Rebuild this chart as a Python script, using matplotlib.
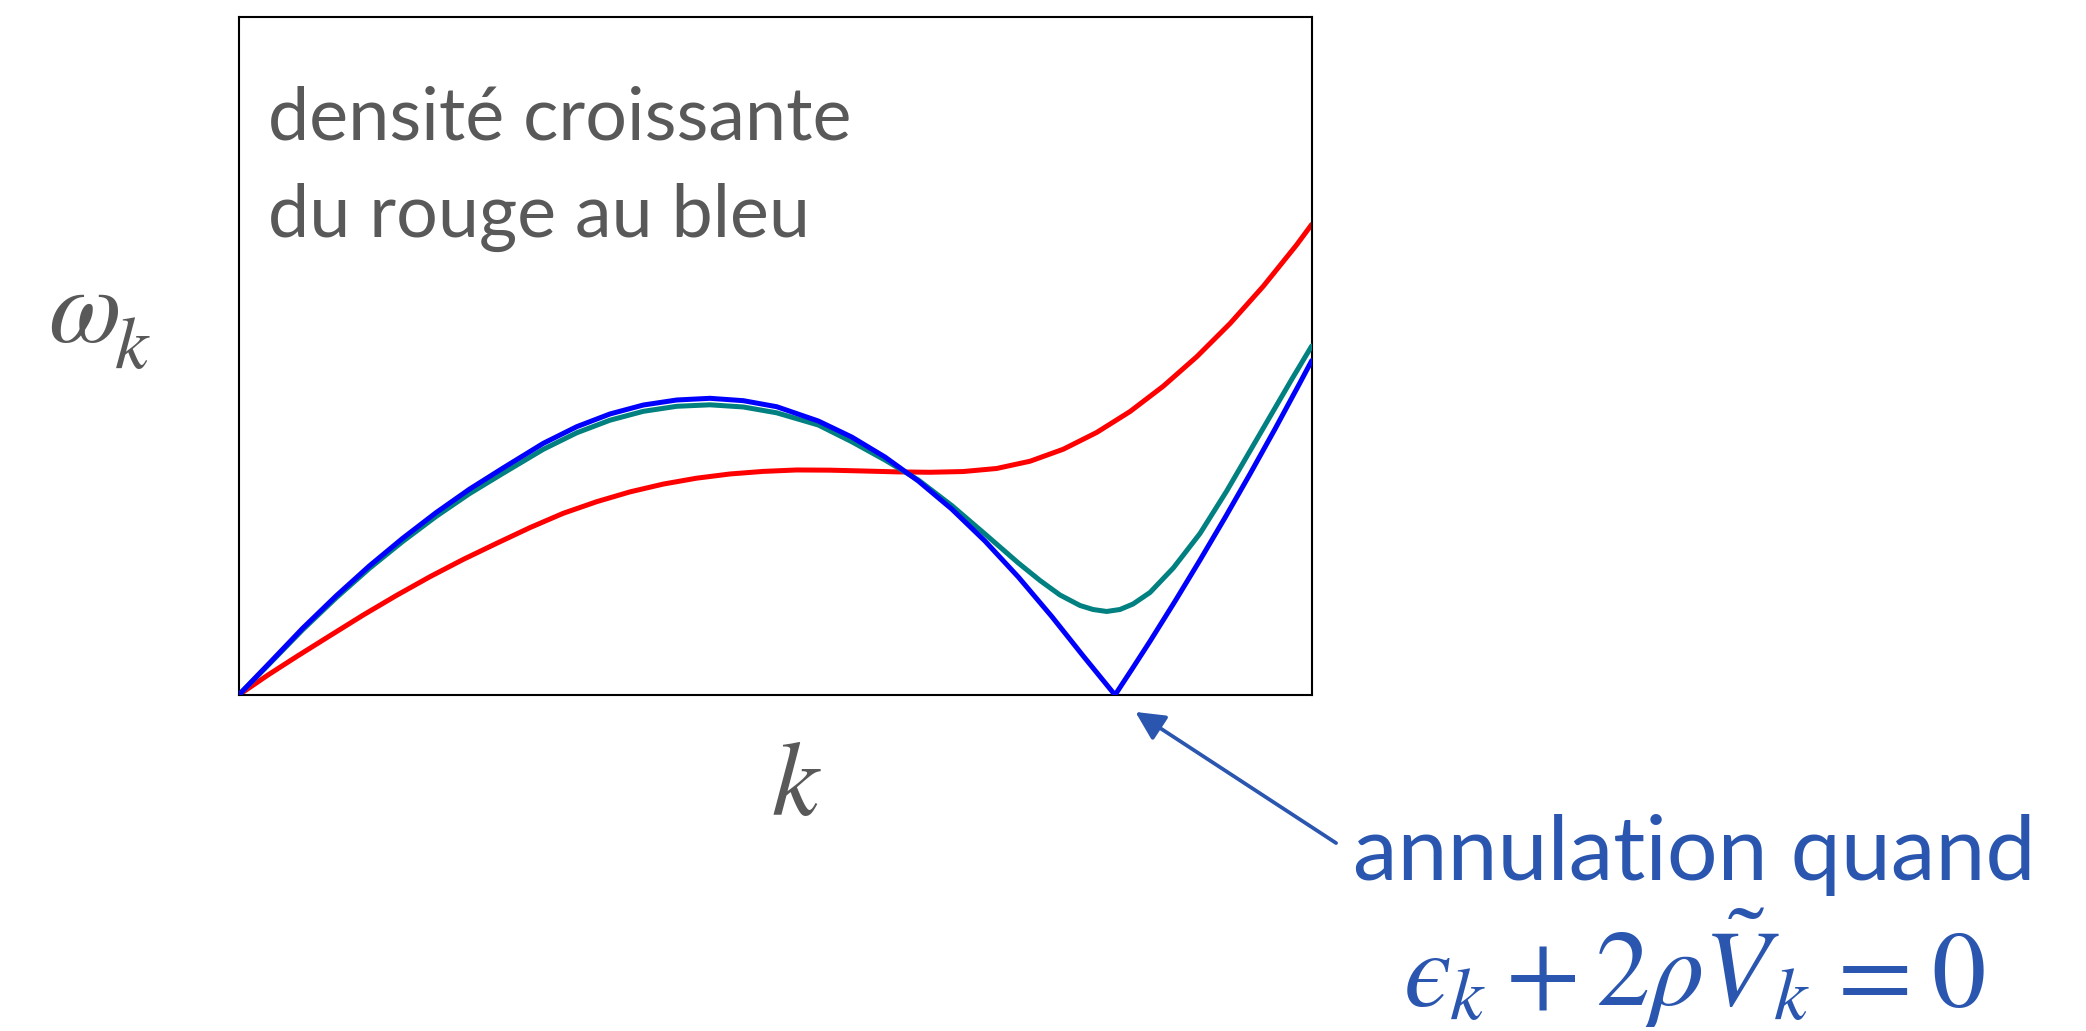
import matplotlib
matplotlib.use("Agg")
import matplotlib.pyplot as plt

plt.rcParams["mathtext.fontset"] = "stix"

# Dispersion curves omega_k(k); k and omega in units of the axis range
k_red = [0.0, 0.0270, 0.0541, 0.0851, 0.1161, 0.1472, 0.1783, 0.2093, 0.2404,
         0.2715, 0.3025, 0.3336, 0.3647, 0.3957, 0.4268, 0.4579, 0.4889,
         0.5200, 0.5511, 0.5821, 0.6132, 0.6443, 0.6753, 0.7064, 0.7375,
         0.7685, 0.7996, 0.8307, 0.8617, 0.8928, 0.9239, 0.9549, 0.9860, 1.0]
w_red = [0.0, 0.0292, 0.0568, 0.0875, 0.1180, 0.1470, 0.1745, 0.2000, 0.2237,
         0.2469, 0.2680, 0.2851, 0.2996, 0.3111, 0.3198, 0.3260, 0.3298,
         0.3319, 0.3316, 0.3304, 0.3291, 0.3285, 0.3296, 0.3341, 0.3448,
         0.3625, 0.3872, 0.4181, 0.4555, 0.4988, 0.5479, 0.6029, 0.6640, 0.6940]

k_teal = [0.0, 0.0285, 0.0596, 0.0907, 0.1217, 0.1528, 0.1839, 0.2149, 0.2460,
          0.2839, 0.3150, 0.3460, 0.3771, 0.4082, 0.4392, 0.4703, 0.5014,
          0.5402, 0.5713, 0.6023, 0.6334, 0.6645, 0.6955, 0.7266, 0.7468,
          0.7654, 0.7841, 0.7962, 0.8089, 0.8213, 0.8335, 0.8493, 0.8710,
          0.8959, 0.9208, 0.9425, 0.9642, 0.9816, 1.0]
w_teal = [0.0, 0.0457, 0.0962, 0.1431, 0.1866, 0.2264, 0.2633, 0.2968, 0.3267,
          0.3624, 0.3867, 0.4053, 0.4184, 0.4258, 0.4280, 0.4248, 0.4162,
          0.3982, 0.3736, 0.3466, 0.3171, 0.2795, 0.2375, 0.1947, 0.1689,
          0.1475, 0.1320, 0.1261, 0.1232, 0.1261, 0.1342, 0.1512, 0.1873,
          0.2382, 0.3009, 0.3599, 0.4189, 0.4661, 0.5147]

k_blue = [0.0, 0.0285, 0.0596, 0.0907, 0.1217, 0.1528, 0.1839, 0.2149, 0.2460,
          0.2839, 0.3150, 0.3460, 0.3771, 0.4082, 0.4392, 0.4703, 0.5014,
          0.5402, 0.5713, 0.6023, 0.6334, 0.6645, 0.6955, 0.7266, 0.7577,
          0.7871, 0.8167, 0.8325, 0.8493, 0.8726, 0.8959, 0.9192, 0.9425,
          0.9658, 0.9891, 1.0]
w_blue = [0.0, 0.0468, 0.0984, 0.1460, 0.1903, 0.2311, 0.2689, 0.3034, 0.3344,
          0.3712, 0.3957, 0.4145, 0.4277, 0.4351, 0.4376, 0.4341, 0.4252,
          0.4041, 0.3805, 0.3510, 0.3156, 0.2743, 0.2271, 0.1740, 0.1159,
          0.0575, 0.0, 0.0381, 0.0792, 0.1382, 0.1990, 0.2615, 0.3260,
          0.3923, 0.4606, 0.4931]

k_zero = 0.8167  # where eps_k + 2 rho V_k vanishes

GRAY = "#595959"
ANNOT = "#2A56B0"
W, H = 2086, 1031

fig = plt.figure(figsize=(W / 100, H / 100), dpi=100)
ax = fig.add_axes([0.11443, 0.32590, 0.51438, 0.65761])

line_kw = dict(lw=3.6, solid_capstyle="round", solid_joinstyle="round")
ax.plot(k_red, w_red, color="#FF0000", zorder=2, **line_kw)
ax.plot(k_teal, w_teal, color="#008080", zorder=3, **line_kw)
ax.plot(k_blue, w_blue, color="#0000FF", zorder=4, **line_kw)

ax.set_xlim(0, 1)
ax.set_ylim(0, 1)
ax.set_xticks([])
ax.set_yticks([])
for s in ax.spines.values():
    s.set_linewidth(1.5)
    s.set_color("black")


def put(x_px, base_px, s, size, color, **kw):
    """Place text with its left edge at x_px and baseline at base_px (from top)."""
    kw.setdefault("ha", "left")
    fig.text(x_px / W, 1 - base_px / H, s, fontsize=size, color=color,
             va="baseline", **kw)


txt_font = ["Lato", "DejaVu Sans"]
put(268, 140, "densité croissante", 53, GRAY, family=txt_font)
put(268, 237, "du rouge au bleu", 53, GRAY, family=txt_font)

# omega_k, with a lowered subscript
put(48, 342, r"$\omega$", 76, GRAY)
put(114, 368, r"$k$", 54, GRAY)
put(796, 815, r"$k$", 76, GRAY, ha="center")

ax.annotate("", xy=(k_zero + 0.019, -0.025), xycoords="data",
            xytext=(0.6405, 0.1823), textcoords="figure fraction",
            annotation_clip=False,
            arrowprops=dict(arrowstyle="-|>,head_length=0.44,head_width=0.22",
                            mutation_scale=40, lw=2.7, color=ANNOT,
                            shrinkA=0, shrinkB=0))

put(1353, 880, "annulation quand", 64.5, ANNOT, family=txt_font)

# eps_k + 2 rho V~_k = 0
put(1403, 1006, "$\u03f5$", 78, ANNOT)
put(1449, 1019, r"$k$", 54, ANNOT)
put(1505, 1006, r"$+$", 78, ANNOT)
put(1595, 1006, r"$2\rho\tilde{V}$", 78, ANNOT)
put(1773, 1019, r"$k$", 54, ANNOT)
put(1822, 1006, r"$=$", 78, ANNOT)
put(1931, 1006, r"$0$", 78, ANNOT)

fig.savefig("out.png", dpi=100)
